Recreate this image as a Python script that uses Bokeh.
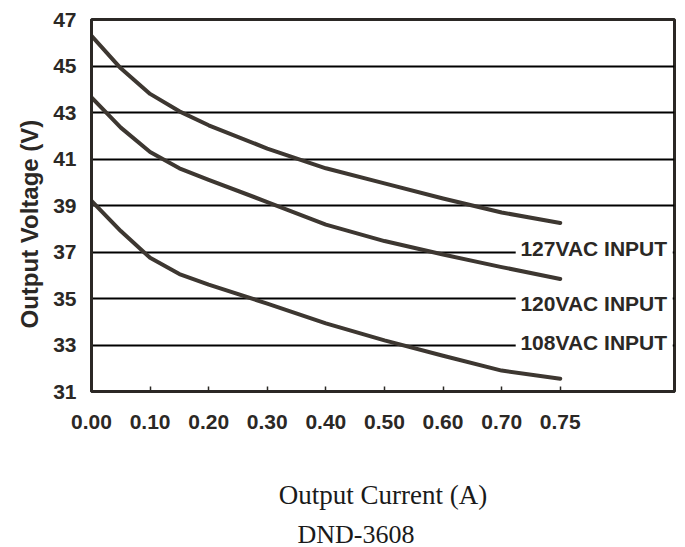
from bokeh.plotting import figure
from bokeh.models import Range1d, FixedTicker, Label, BoxAnnotation, Title
from bokeh.embed import file_html
from bokeh.resources import INLINE

# ---- data ----
current_pos = [0.0, 0.05, 0.1, 0.15, 0.2, 0.3, 0.4, 0.5, 0.6, 0.7, 0.8]
v_127 = [46.3, 44.9, 43.8, 43.05, 42.45, 41.45, 40.6, 39.95, 39.3, 38.7, 38.25]
v_120 = [43.65, 42.35, 41.3, 40.6, 40.1, 39.15, 38.18, 37.47, 36.89, 36.35, 35.84]
v_108 = [39.2, 37.9, 36.75, 36.05, 35.6, 34.78, 33.93, 33.2, 32.54, 31.9, 31.55]

x_ticks = [0.0, 0.1, 0.2, 0.3, 0.4, 0.5, 0.6, 0.7, 0.8]
x_tick_labels = ["0.00", "0.10", "0.20", "0.30", "0.40", "0.50", "0.60", "0.70", "0.75"]
y_ticks = [31, 33, 35, 37, 39, 41, 43, 45, 47]
y_grid = [33, 35, 37, 39, 41, 43, 45]

series_names = ["127VAC INPUT", "120VAC INPUT", "108VAC INPUT"]
label_x = [0.732, 0.732, 0.732]
label_y = [37.17, 34.8, 33.12]

INK = "#2b2825"
CURVE = "#3d3731"
SANS = "Liberation Sans"
SERIF = "Liberation Serif"

p = figure(frame_width=583, frame_height=372, output_backend="svg", toolbar_location=None,
           x_range=Range1d(0, 0.995), y_range=Range1d(31, 47),
           min_border_left=91, min_border_right=10, min_border_top=19, min_border_bottom=0)

p.background_fill_color = "white"
p.border_fill_color = "white"
p.outline_line_color = INK
p.outline_line_width = 3

# grid
p.xgrid.visible = False
p.ygrid.ticker = FixedTicker(ticks=y_grid)
p.ygrid.grid_line_color = "black"
p.ygrid.grid_line_width = 2
p.ygrid.grid_line_alpha = 1

# x axis
xa = p.xaxis[0]
xa.ticker = FixedTicker(ticks=x_ticks)
xa.major_label_overrides = dict(zip(x_ticks, x_tick_labels))
xa.major_tick_in = 5
xa.major_tick_out = 0
xa.major_tick_line_color = INK
xa.major_tick_line_width = 1.5
xa.minor_tick_line_color = None
xa.axis_line_color = INK
xa.axis_line_width = 3
xa.major_label_standoff = 23
xa.major_label_text_font = SANS
xa.major_label_text_font_style = "bold"
xa.major_label_text_font_size = "21px"
xa.major_label_text_color = INK
xa.axis_label = "Output Current (A)"
xa.axis_label_text_font = SERIF
xa.axis_label_text_font_style = "normal"
xa.axis_label_text_font_size = "27px"
xa.axis_label_text_color = "#1a1a1a"
xa.axis_label_standoff = 48

# y axis
ya = p.yaxis[0]
ya.ticker = FixedTicker(ticks=y_ticks)
ya.major_tick_in = 0
ya.major_tick_out = 0
ya.minor_tick_line_color = None
ya.axis_line_color = INK
ya.axis_line_width = 3
ya.major_label_standoff = 15
ya.major_label_text_font = SANS
ya.major_label_text_font_style = "bold"
ya.major_label_text_font_size = "21px"
ya.major_label_text_color = INK

# y axis title (shifted down like the reference)
p.add_layout(Title(text="Output Voltage (V)", align="left", offset=63, standoff=15,
                   text_font=SANS, text_font_style="bold", text_font_size="24px",
                   text_color=INK), "left")

# curves
for vals in (v_127, v_120, v_108):
    p.line(current_pos, vals, line_color=CURVE, line_width=4, line_join="round", line_cap="round")

# label boxes and labels
for name, lx, ly in zip(series_names, label_x, label_y):
    p.add_layout(BoxAnnotation(left=lx - 0.008, right=0.992, bottom=ly - 0.45, top=ly + 0.45,
                               fill_color="white", fill_alpha=1, line_color=None))
    p.add_layout(Label(x=lx, y=ly, text=name, text_font=SANS, text_font_style="bold",
                       text_font_size="21px", text_color=INK, text_baseline="middle",
                       text_align="left"))

# model name below (shifted left like the reference)
p.add_layout(Title(text="DND-3608", align="left", offset=206, standoff=10,
                   text_font=SERIF, text_font_style="normal", text_font_size="26px",
                   text_color="#1a1a1a"), "below")

open("out.html", "w").write(file_html(p, INLINE))
